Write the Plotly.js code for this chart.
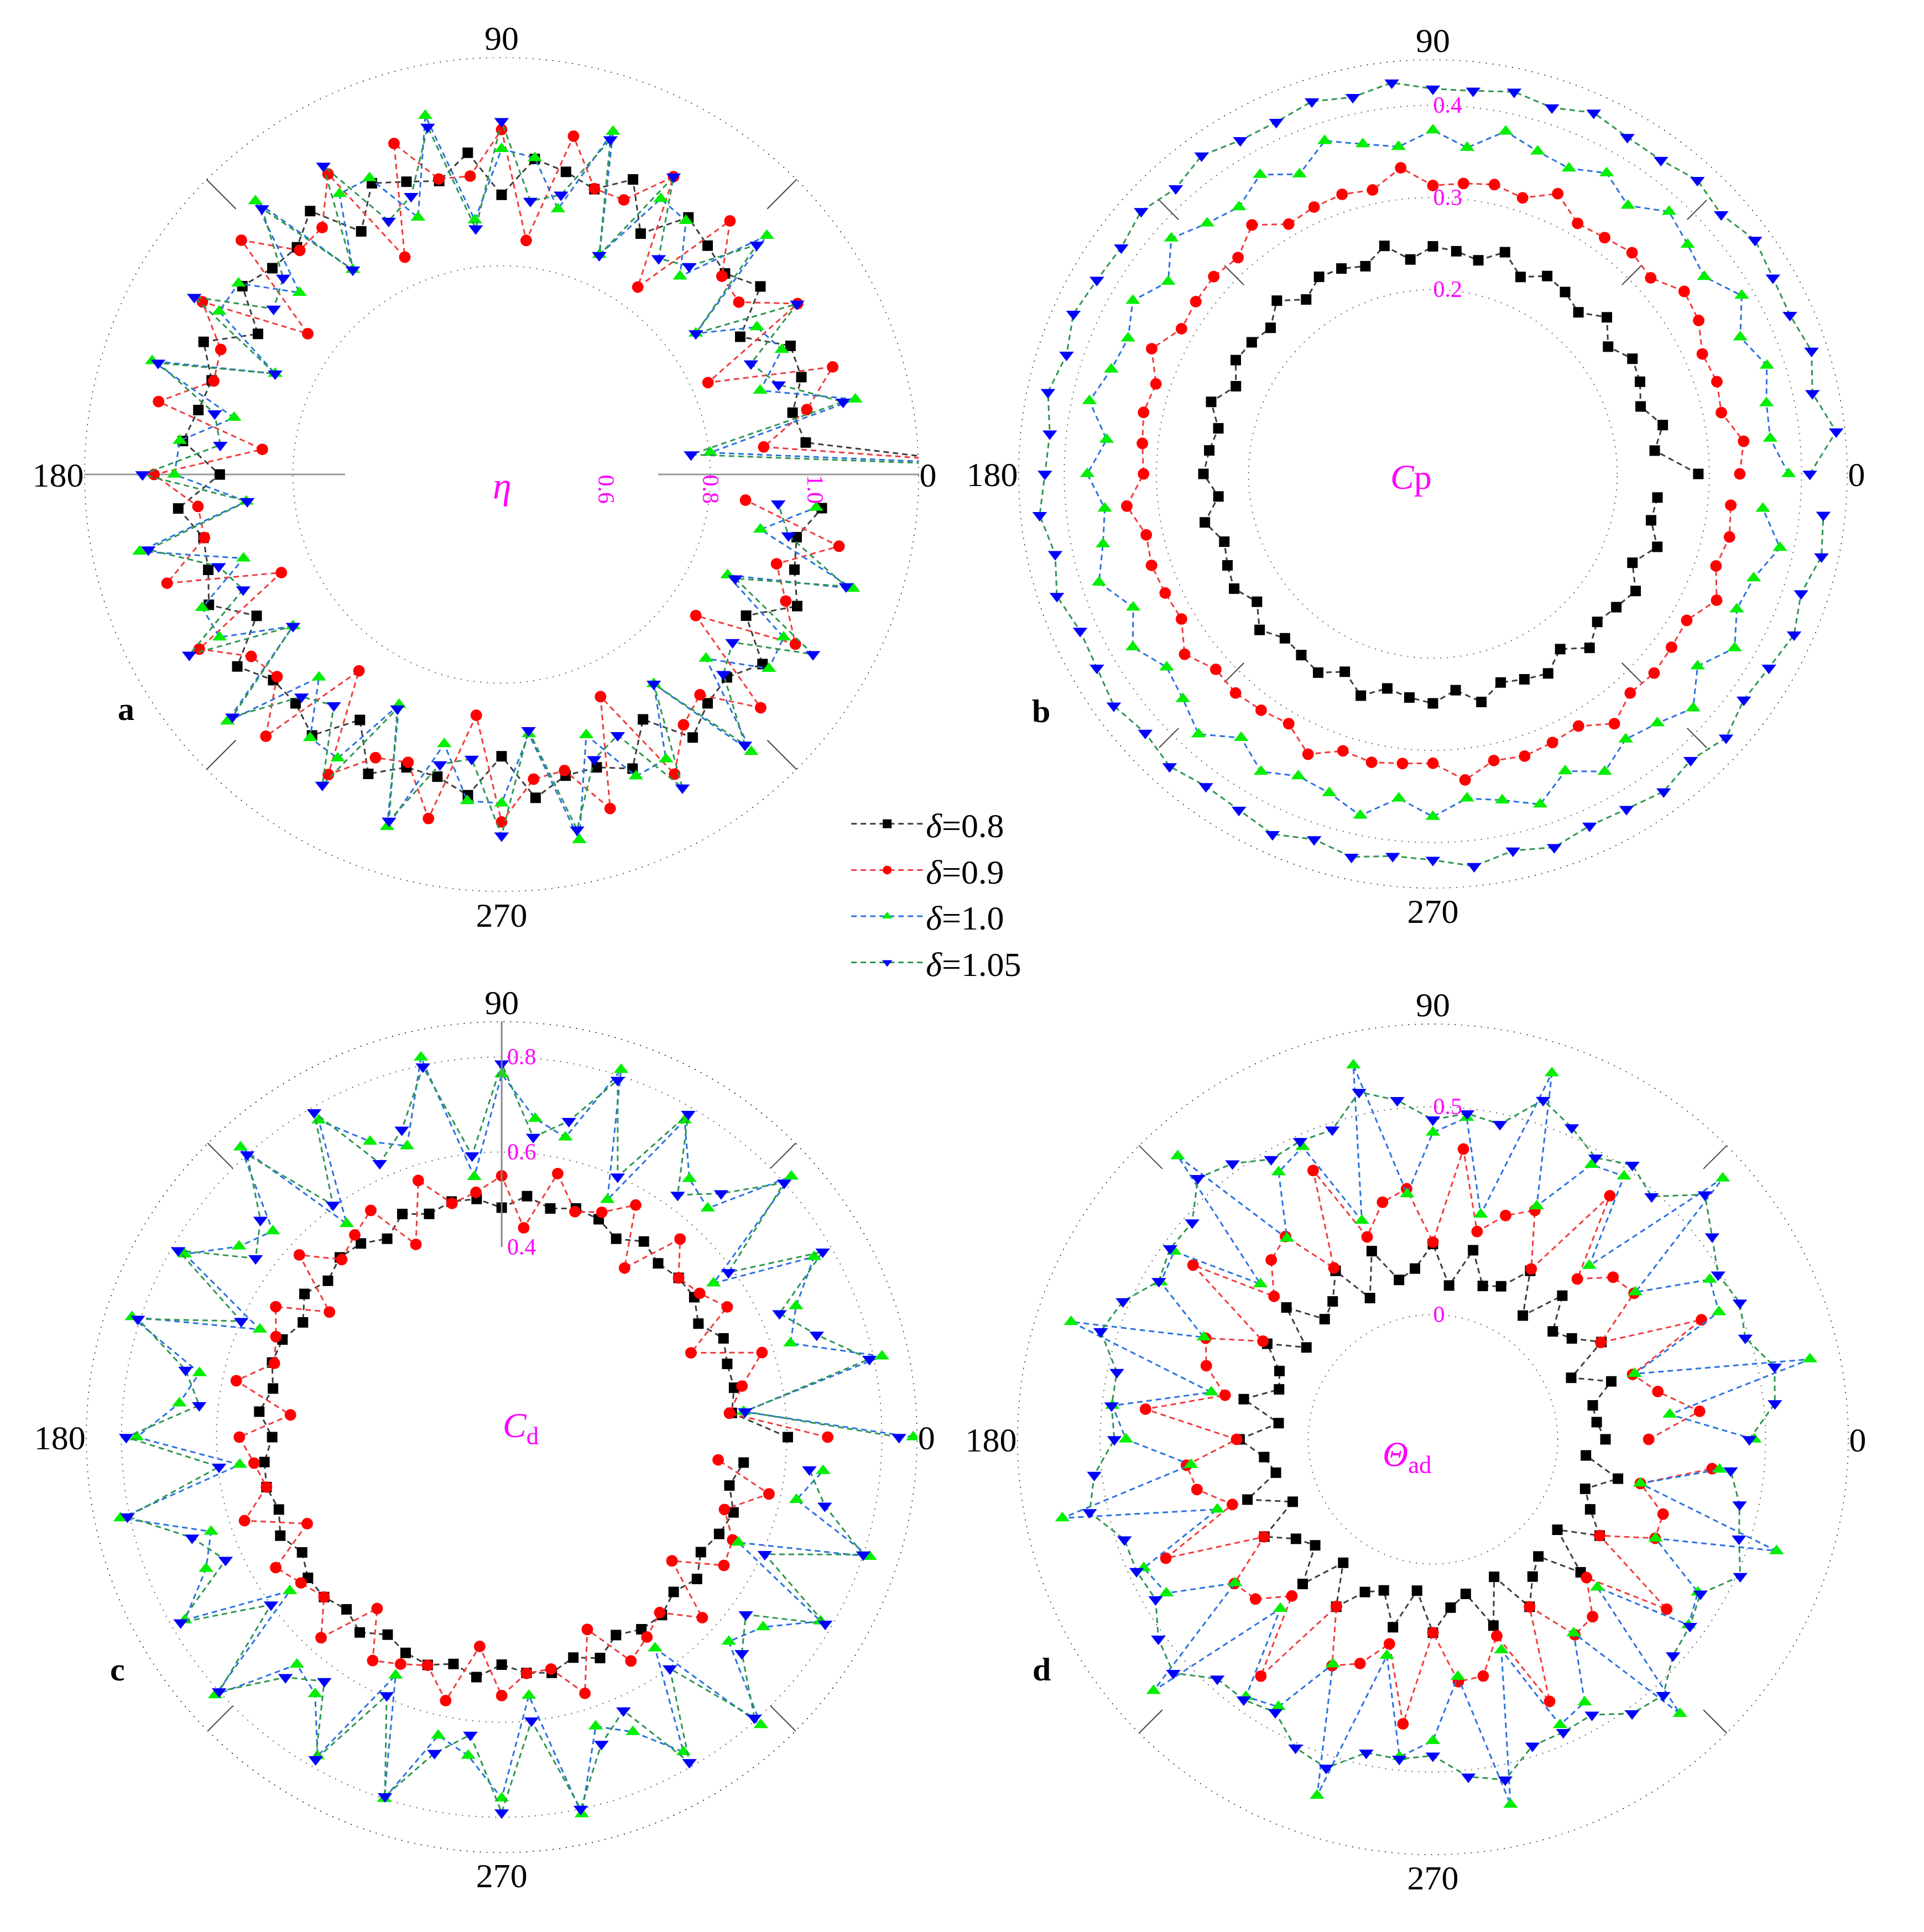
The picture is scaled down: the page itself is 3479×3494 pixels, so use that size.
<!DOCTYPE html>
<html>
<head>
<meta charset="utf-8">
<script src="https://cdn.plot.ly/plotly-3.0.1.min.js"></script>
<style>
  html, body { margin: 0; padding: 0; background: #fff; }
</style>
</head>
<body>
<div id="polarDiv"></div>
<script>
// angle of each sample (deg)
const theta = [0, 6, 12, 18, 24, 30, 36, 42, 48, 54, 60, 66, 72, 78, 84, 90, 96, 102, 108, 114,
    120, 126, 132, 138, 144, 150, 156, 162, 168, 174, 180, 186, 192, 198, 204, 210, 216, 222, 228, 234,
    240, 246, 252, 258, 264, 270, 276, 282, 288, 294, 300, 306, 312, 318, 324, 330, 336, 342, 348, 354];

// (a) eta
const etaD08 = [1.5, 0.986, 0.970, 1.004, 1.006, 0.928, 1.013, 0.976, 0.990, 1.009, 0.933, 1.019, 0.975, 0.993, 1.008,
    0.936, 1.020, 0.975, 0.990, 1.011, 0.938, 1.024, 0.986, 0.991, 1.014, 0.939, 1.025, 0.984, 0.994, 1.014,
    0.940, 1.023, 0.984, 0.991, 1.014, 0.942, 1.026, 0.989, 0.990, 1.018, 0.943, 1.028, 0.990, 0.992, 1.018,
    0.940, 1.023, 0.990, 0.990, 1.017, 0.942, 1.023, 0.990, 0.981, 1.018, 0.941, 1.020, 0.990, 0.978, 1.017];
const etaD09 = [1.65, 0.905, 0.998, 1.067, 0.833, 1.055, 0.962, 0.968, 1.054, 0.844, 1.059, 0.976, 0.976, 1.063, 0.851,
    1.061, 0.975, 0.979, 1.067, 0.856, 1.065, 0.985, 0.978, 1.071, 0.859, 1.062, 0.989, 0.980, 1.072, 0.861,
    1.066, 0.985, 0.982, 1.074, 0.862, 1.069, 0.993, 0.979, 1.075, 0.865, 1.064, 0.994, 0.980, 1.074, 0.864,
    1.066, 0.987, 0.980, 1.073, 0.866, 1.063, 0.993, 0.968, 1.068, 0.860, 1.050, 0.996, 0.954, 1.061, 0.870];
const etaD10 = [1.8, 0.802, 1.093, 0.921, 0.988, 0.965, 0.860, 1.084, 0.911, 1.001, 1.010, 0.861, 1.091, 0.920, 1.010,
    1.024, 0.890, 1.103, 0.918, 1.022, 1.021, 0.885, 1.105, 0.921, 1.023, 1.025, 0.875, 1.104, 0.924, 1.020,
    1.027, 0.892, 1.109, 0.920, 1.028, 1.024, 0.894, 1.107, 0.923, 1.024, 1.028, 0.883, 1.110, 0.928, 1.029,
    1.030, 0.900, 1.116, 0.925, 1.033, 1.030, 0.896, 1.115, 0.927, 1.033, 1.024, 0.874, 1.108, 0.907, 1.006];
const etaD105 = [1.8, 0.765, 1.069, 0.958, 0.923, 1.054, 0.860, 1.058, 0.937, 0.912, 1.059, 0.860, 1.075, 0.948, 0.927,
    1.077, 0.874, 1.081, 0.961, 0.932, 1.083, 0.885, 1.086, 0.963, 0.940, 1.080, 0.875, 1.092, 0.962, 0.942,
    1.088, 0.890, 1.092, 0.970, 0.942, 1.091, 0.894, 1.094, 0.973, 0.947, 1.087, 0.891, 1.098, 0.968, 0.948,
    1.092, 0.893, 1.096, 0.974, 0.947, 1.093, 0.896, 1.097, 0.972, 0.947, 1.089, 0.890, 1.094, 0.962, 0.933];

// (b) Cp
const cpD08 = [0.288, 0.242, 0.255, 0.237, 0.246, 0.250, 0.235, 0.254, 0.236, 0.244, 0.248, 0.234, 0.253, 0.237, 0.243,
    0.247, 0.234, 0.253, 0.237, 0.244, 0.247, 0.234, 0.253, 0.237, 0.243, 0.247, 0.234, 0.253, 0.238, 0.244,
    0.249, 0.234, 0.253, 0.238, 0.244, 0.249, 0.236, 0.253, 0.240, 0.243, 0.249, 0.235, 0.253, 0.238, 0.244,
    0.249, 0.236, 0.253, 0.238, 0.244, 0.250, 0.235, 0.254, 0.240, 0.246, 0.254, 0.237, 0.256, 0.242, 0.245];
const cpD09 = [0.333, 0.339, 0.320, 0.324, 0.320, 0.333, 0.337, 0.318, 0.323, 0.317, 0.314, 0.333, 0.315, 0.321, 0.317,
    0.313, 0.334, 0.315, 0.319, 0.317, 0.313, 0.334, 0.316, 0.320, 0.318, 0.315, 0.334, 0.316, 0.321, 0.317,
    0.314, 0.334, 0.318, 0.321, 0.318, 0.315, 0.333, 0.317, 0.320, 0.317, 0.313, 0.333, 0.316, 0.320, 0.316,
    0.314, 0.334, 0.318, 0.322, 0.319, 0.316, 0.335, 0.320, 0.323, 0.320, 0.318, 0.337, 0.323, 0.329, 0.325];
const cpD10 = [0.386, 0.368, 0.370, 0.381, 0.365, 0.387, 0.364, 0.372, 0.383, 0.360, 0.377, 0.363, 0.368, 0.380, 0.356,
    0.373, 0.357, 0.366, 0.380, 0.356, 0.375, 0.358, 0.366, 0.382, 0.355, 0.376, 0.362, 0.367, 0.381, 0.356,
    0.375, 0.358, 0.366, 0.381, 0.356, 0.376, 0.357, 0.365, 0.380, 0.354, 0.373, 0.359, 0.364, 0.379, 0.354,
    0.372, 0.354, 0.362, 0.377, 0.353, 0.373, 0.356, 0.364, 0.380, 0.355, 0.378, 0.361, 0.366, 0.385, 0.360];
const cpD105 = [0.409, 0.440, 0.421, 0.432, 0.424, 0.426, 0.432, 0.421, 0.429, 0.421, 0.422, 0.429, 0.418, 0.424, 0.418,
    0.418, 0.427, 0.418, 0.425, 0.418, 0.418, 0.427, 0.417, 0.426, 0.418, 0.421, 0.427, 0.418, 0.427, 0.418,
    0.421, 0.429, 0.419, 0.429, 0.419, 0.421, 0.428, 0.420, 0.427, 0.419, 0.421, 0.428, 0.417, 0.425, 0.417,
    0.419, 0.428, 0.418, 0.426, 0.418, 0.420, 0.426, 0.418, 0.428, 0.417, 0.421, 0.429, 0.420, 0.431, 0.426];

// (c) Cd
const cdD08 = [0.602, 0.487, 0.500, 0.499, 0.511, 0.478, 0.501, 0.501, 0.492, 0.509, 0.482, 0.502, 0.506, 0.492, 0.510,
    0.483, 0.504, 0.507, 0.494, 0.514, 0.482, 0.504, 0.509, 0.492, 0.513, 0.483, 0.505, 0.508, 0.492, 0.513,
    0.483, 0.502, 0.506, 0.493, 0.510, 0.485, 0.504, 0.503, 0.488, 0.508, 0.480, 0.497, 0.504, 0.488, 0.508,
    0.479, 0.499, 0.507, 0.488, 0.509, 0.481, 0.500, 0.504, 0.487, 0.508, 0.484, 0.501, 0.513, 0.490, 0.512];
const cdD09 = [0.686, 0.482, 0.517, 0.576, 0.436, 0.548, 0.515, 0.501, 0.561, 0.440, 0.564, 0.518, 0.499, 0.567, 0.443,
    0.550, 0.518, 0.503, 0.568, 0.444, 0.551, 0.526, 0.503, 0.573, 0.448, 0.549, 0.520, 0.503, 0.571, 0.447,
    0.552, 0.524, 0.506, 0.569, 0.448, 0.549, 0.522, 0.503, 0.568, 0.446, 0.543, 0.523, 0.505, 0.567, 0.443,
    0.544, 0.500, 0.499, 0.567, 0.443, 0.544, 0.520, 0.497, 0.568, 0.443, 0.540, 0.532, 0.493, 0.575, 0.458];
const cdD10 = [0.866, 0.512, 0.818, 0.639, 0.678, 0.759, 0.551, 0.820, 0.648, 0.672, 0.770, 0.547, 0.813, 0.645, 0.674,
    0.764, 0.551, 0.817, 0.644, 0.681, 0.770, 0.555, 0.821, 0.648, 0.683, 0.770, 0.557, 0.818, 0.650, 0.682,
    0.768, 0.554, 0.820, 0.643, 0.681, 0.770, 0.551, 0.811, 0.644, 0.668, 0.775, 0.549, 0.800, 0.642, 0.674,
    0.760, 0.547, 0.811, 0.640, 0.679, 0.765, 0.549, 0.815, 0.643, 0.680, 0.775, 0.545, 0.814, 0.634, 0.680];
const cdD105 = [0.836, 0.515, 0.791, 0.697, 0.640, 0.780, 0.590, 0.800, 0.690, 0.630, 0.785, 0.600, 0.790, 0.680, 0.635,
    0.786, 0.596, 0.797, 0.680, 0.631, 0.789, 0.604, 0.800, 0.683, 0.640, 0.786, 0.600, 0.805, 0.680, 0.640,
    0.790, 0.598, 0.805, 0.685, 0.636, 0.780, 0.600, 0.800, 0.680, 0.635, 0.783, 0.595, 0.795, 0.680, 0.630,
    0.790, 0.600, 0.800, 0.679, 0.630, 0.790, 0.602, 0.795, 0.680, 0.635, 0.786, 0.606, 0.800, 0.695, 0.651];

// (d) Theta_ad
const thD08 = [0.115, 0.096, 0.093, 0.151, 0.064, 0.168, 0.113, 0.088, 0.165, 0.068, 0.168, 0.103, 0.088, 0.165, 0.072,
    0.170, 0.113, 0.092, 0.176, 0.072, 0.168, 0.110, 0.089, 0.174, 0.076, 0.160, 0.104, 0.089, 0.165, 0.073,
    0.165, 0.108, 0.086, 0.169, 0.069, 0.168, 0.107, 0.081, 0.168, 0.067, 0.165, 0.102, 0.082, 0.162, 0.066,
    0.165, 0.107, 0.080, 0.171, 0.062, 0.165, 0.108, 0.079, 0.178, 0.070, 0.163, 0.114, 0.085, 0.155, 0.070];
const thD09 = [0.219, 0.345, 0.253, 0.205, 0.407, 0.166, 0.298, 0.283, 0.219, 0.424, 0.173, 0.303, 0.266, 0.211, 0.402,
    0.174, 0.306, 0.283, 0.212, 0.408, 0.176, 0.303, 0.281, 0.214, 0.413, 0.172, 0.298, 0.273, 0.211, 0.395,
    0.172, 0.296, 0.280, 0.207, 0.403, 0.169, 0.290, 0.274, 0.207, 0.404, 0.164, 0.296, 0.267, 0.203, 0.388,
    0.165, 0.286, 0.282, 0.197, 0.390, 0.165, 0.281, 0.274, 0.197, 0.395, 0.163, 0.285, 0.282, 0.210, 0.375];
const thD10 = [0.473, 0.273, 0.627, 0.210, 0.453, 0.469, 0.302, 0.638, 0.262, 0.482, 0.463, 0.314, 0.626, 0.253, 0.478,
    0.438, 0.293, 0.620, 0.253, 0.470, 0.442, 0.297, 0.617, 0.258, 0.469, 0.456, 0.303, 0.615, 0.245, 0.475,
    0.438, 0.285, 0.611, 0.245, 0.461, 0.440, 0.288, 0.604, 0.248, 0.465, 0.443, 0.292, 0.601, 0.232, 0.468,
    0.425, 0.274, 0.598, 0.233, 0.452, 0.430, 0.276, 0.588, 0.232, 0.460, 0.436, 0.286, 0.569, 0.210, 0.393];
const thD105 = [0.461, 0.527, 0.540, 0.490, 0.508, 0.492, 0.530, 0.580, 0.486, 0.516, 0.482, 0.521, 0.558, 0.475, 0.488,
    0.469, 0.520, 0.554, 0.483, 0.485, 0.478, 0.520, 0.545, 0.479, 0.481, 0.461, 0.516, 0.540, 0.477, 0.477,
    0.466, 0.519, 0.544, 0.480, 0.480, 0.470, 0.516, 0.540, 0.475, 0.474, 0.458, 0.512, 0.531, 0.471, 0.473,
    0.461, 0.516, 0.537, 0.475, 0.471, 0.465, 0.515, 0.528, 0.477, 0.464, 0.443, 0.509, 0.474, 0.454, 0.420];

const seriesNames = ['<i>δ</i>=0.8', '<i>δ</i>=0.9', '<i>δ</i>=1.0', '<i>δ</i>=1.05'];
const markerSymbols = ['square', 'circle', 'triangle-up', 'triangle-down'];
const markerColors = ['#000000', '#ff0000', '#00ee00', '#0000ff'];
const lineColors = ['#3c3c3c', '#f03c3c', '#2a72e0', '#2e9650'];
const markerSizes = [19, 21, 23, 23];

const serif = 'Liberation Serif, Times New Roman, serif';

// lo/hi = radial range, rings = dotted grid circles, spoke = short diagonal grid dashes
const panels = [
    {subplot: 'polar', data: [etaD08, etaD09, etaD10, etaD105], lo: 0.4, hi: 1.2,
        rings: [0.8], spoke: [1.12, 1.2], spokeDash: 'solid'},
    {subplot: 'polar2', data: [cpD08, cpD09, cpD10, cpD105], lo: 0, hi: 0.45,
        rings: [0.2, 0.3, 0.4], spoke: [0.29, 0.45], spokeDash: '50px,117px'},
    {subplot: 'polar3', data: [cdD08, cdD09, cdD10, cdD105], lo: 0.4, hi: 0.875,
        rings: [0.6, 0.8], spoke: [0.8, 0.875], spokeDash: 'solid'},
    {subplot: 'polar4', data: [thD08, thD09, thD10, thD105], lo: -0.3, hi: 0.7,
        rings: [0, 0.5], spoke: [0.62, 0.7], spokeDash: 'solid'}
];

const ringTheta = [];
for (let a = 0; a <= 360; a += 1) ringTheta.push(a);

function ring(subplot, radius, color, width) {
    return {
        type: 'scatterpolar', subplot: subplot,
        r: ringTheta.map(function () { return radius; }), theta: ringTheta,
        mode: 'lines', line: {color: color, width: width, dash: '2px,10px'},
        showlegend: false, hoverinfo: 'skip', cliponaxis: false
    };
}

const traces = [];

panels.forEach(function (p) {
    traces.push(ring(p.subplot, p.hi, '#111', 3));
    p.rings.forEach(function (v) {
        traces.push(ring(p.subplot, v, '#666', 2));
    });
    [45, 135, 225, 315].forEach(function (a) {
        traces.push({
            type: 'scatterpolar', subplot: p.subplot, r: p.spoke, theta: [a, a],
            mode: 'lines', line: {color: '#444', width: 2, dash: p.spokeDash},
            showlegend: false, hoverinfo: 'skip', cliponaxis: true
        });
    });
});

// grey axis line of panel a
[0, 180].forEach(function (a) {
    traces.push({
        type: 'scatterpolar', subplot: 'polar', r: [0.7, 1.2], theta: [a, a],
        mode: 'lines', line: {color: '#999', width: 3},
        showlegend: false, hoverinfo: 'skip', cliponaxis: true
    });
});

panels.forEach(function (p, pi) {
    p.data.forEach(function (vals, i) {
        traces.push({
            type: 'scatterpolar',
            subplot: p.subplot,
            r: vals,
            theta: theta,
            name: seriesNames[i],
            legendgroup: 'g' + i,
            showlegend: pi === 0,
            mode: 'lines+markers',
            cliponaxis: true,
            line: {color: lineColors[i], width: 3, dash: '10px,7px'},
            marker: {symbol: markerSymbols[i], color: markerColors[i], size: markerSizes[i]}
        });
    });
});

function angular() {
    return {
        tickmode: 'array',
        tickvals: [0, 90, 180, 270],
        ticktext: ['0', '90', '180', '270'],
        showgrid: false,
        showline: false,
        ticks: '',
        tickfont: {family: serif, size: 62, color: '#000'}
    };
}

function radial(range, tickvals, angle, tickangle, showline) {
    return {
        range: range,
        tickmode: 'array',
        tickvals: tickvals,
        ticktext: tickvals.map(function (v) { return v.toFixed(1).replace('0.0', '0'); }),
        angle: angle,
        tickangle: tickangle,
        showline: showline,
        linecolor: '#888',
        linewidth: 3,
        ticks: '',
        showgrid: false,
        tickfont: {family: serif, size: 42, color: '#ff00ff'}
    };
}

const layout = {
    width: 3479,
    height: 3494,
    margin: {l: 0, r: 0, t: 0, b: 0},
    paper_bgcolor: '#ffffff',
    font: {family: serif},
    showlegend: true,
    legend: {
        x: 0.441, y: 0.587, xanchor: 'left', yanchor: 'top',
        font: {family: serif, size: 62, color: '#000'},
        bgcolor: 'rgba(0,0,0,0)',
        itemwidth: 130,
        tracegroupgap: 0
    },
    polar: {
        domain: {x: [0.0437, 0.4777], y: [0.5383, 0.9705]},
        bgcolor: '#ffffff',
        angularaxis: angular(),
        radialaxis: radial([0.4, 1.2], [0.6, 0.8, 1.0], 0, 90, false)
    },
    polar2: {
        domain: {x: [0.5292, 0.9603], y: [0.5400, 0.9694]},
        bgcolor: '#ffffff',
        angularaxis: angular(),
        radialaxis: radial([0, 0.45], [0.2, 0.3, 0.4], 90, 90, false)
    },
    polar3: {
        domain: {x: [0.0446, 0.4769], y: [0.0409, 0.4714]},
        bgcolor: '#ffffff',
        hole: 0.457,
        angularaxis: angular(),
        radialaxis: radial([0.4, 0.875], [0.4, 0.6, 0.8], 90, 90, true)
    },
    polar4: {
        domain: {x: [0.5286, 0.9609], y: [0.0398, 0.4702]},
        bgcolor: '#ffffff',
        angularaxis: angular(),
        radialaxis: radial([-0.3, 0.7], [0, 0.5], 90, 90, false)
    },
    annotations: [
        {text: '<i>η</i>', x: 0.2555, y: 0.760, xref: 'paper', yref: 'paper', showarrow: false,
            font: {family: serif, size: 68, color: '#ff00ff'}},
        {text: '<i>C</i>p', x: 0.7448, y: 0.764, xref: 'paper', yref: 'paper', showarrow: false,
            font: {family: serif, size: 64, color: '#ff00ff'}},
        {text: '<i>C</i><sub>d</sub>', x: 0.2607, y: 0.249, xref: 'paper', yref: 'paper', showarrow: false,
            font: {family: serif, size: 64, color: '#ff00ff'}},
        {text: '<i>Θ</i><sub>ad</sub>', x: 0.7448, y: 0.234, xref: 'paper', yref: 'paper', showarrow: false,
            font: {family: serif, size: 64, color: '#ff00ff'}},
        {text: '<b>a</b>', x: 0.0607, y: 0.633, xref: 'paper', yref: 'paper', showarrow: false,
            font: {family: serif, size: 60, color: '#000'}},
        {text: '<b>b</b>', x: 0.541, y: 0.632, xref: 'paper', yref: 'paper', showarrow: false,
            font: {family: serif, size: 60, color: '#000'}},
        {text: '<b>c</b>', x: 0.0566, y: 0.126, xref: 'paper', yref: 'paper', showarrow: false,
            font: {family: serif, size: 60, color: '#000'}},
        {text: '<b>d</b>', x: 0.5415, y: 0.126, xref: 'paper', yref: 'paper', showarrow: false,
            font: {family: serif, size: 60, color: '#000'}}
    ]
};

Plotly.newPlot('polarDiv', traces, layout, {staticPlot: true});
</script>
</body>
</html>
